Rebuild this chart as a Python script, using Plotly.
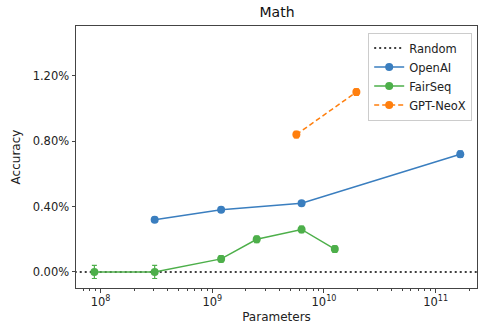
import plotly.graph_objects as go

openai_params = [3.05e8, 1.2e9, 6.3e9, 1.66e11]
openai_acc = [0.0032, 0.0038, 0.0042, 0.0072]
openai_err = [0.00015, 0.00015, 0.00015, 0.0002]

fairseq_params = [8.8e7, 3.05e8, 1.2e9, 2.5e9, 6.3e9, 1.25e10]
fairseq_acc = [0.0, 0.0, 0.0008, 0.0020, 0.0026, 0.0014]
fairseq_err = [0.0004, 0.0004, 0.0002, 0.0002, 0.0002, 0.0002]

neox_params = [5.66e9, 1.95e10]
neox_acc = [0.0084, 0.0110]
neox_err = [0.0002, 0.0002]

random_acc = 0.0

xtick_vals = [1e8, 1e9, 1e10, 1e11]
xtick_text = ["10<sup>8</sup>", "10<sup>9</sup>", "10<sup>10</sup>", "10<sup>11</sup>"]
xminor_vals = [m * 10**k for k in range(7, 12) for m in range(2, 10)]
ytick_vals = [0.0, 0.004, 0.008, 0.012]

fig = go.Figure()

fig.add_trace(go.Scatter(
    x=[10**7.5, 10**11.6], y=[random_acc, random_acc], mode="lines", name="Random",
    line=dict(color="black", dash="2px,3px", width=1.6)))

def add(name, x, y, e, color, dash):
    fig.add_trace(go.Scatter(
        x=x, y=y, mode="lines+markers", name=name,
        line=dict(color=color, width=1.5, dash=dash),
        marker=dict(color=color, size=8),
        error_y=dict(type="data", array=e, color=color, thickness=1.2, width=2.5)))

add("OpenAI", openai_params, openai_acc, openai_err, "#3a7ebf", "solid")
add("FairSeq", fairseq_params, fairseq_acc, fairseq_err, "#4daf4a", "solid")
add("GPT-NeoX", neox_params, neox_acc, neox_err, "#ff7f0e", "5px,3px")

font = "DejaVu Sans"
fig.update_layout(
    width=478, height=329,
    margin=dict(l=76, r=1, t=26, b=41),
    paper_bgcolor="white", plot_bgcolor="white",
    font=dict(family=font, size=11.5, color="#222"),
    title=dict(text="Math", x=0.5796, xanchor="center", y=0.963, yanchor="middle",
               font=dict(size=14, color="#111")),
    showlegend=True,
    legend=dict(x=0.988, y=0.975, xanchor="right", yanchor="top",
                bordercolor="#cccccc", borderwidth=1, bgcolor="rgba(255,255,255,0.85)",
                font=dict(size=11.5), tracegroupgap=0, itemwidth=30),
    xaxis=dict(type="log", range=[7.78, 11.37], showgrid=False, zeroline=False,
               showline=True, linecolor="#444", linewidth=1, mirror=True,
               ticks="outside", ticklen=3.5, tickcolor="#444",
               tickvals=xtick_vals, ticktext=xtick_text,
               minor=dict(ticks="outside", ticklen=2, tickcolor="#444", showgrid=False,
                          tickvals=xminor_vals),
               title=dict(text="Parameters", standoff=4, font=dict(size=12))),
    yaxis=dict(range=[-0.00098, 0.01504], showgrid=False, zeroline=False,
               showline=True, linecolor="#444", linewidth=1, mirror=True,
               ticks="outside", ticklen=3.5, tickcolor="#444",
               tickvals=ytick_vals, tickformat=".2%",
               title=dict(text="Accuracy", standoff=9, font=dict(size=12))),
)

fig.write_html("out.html")
